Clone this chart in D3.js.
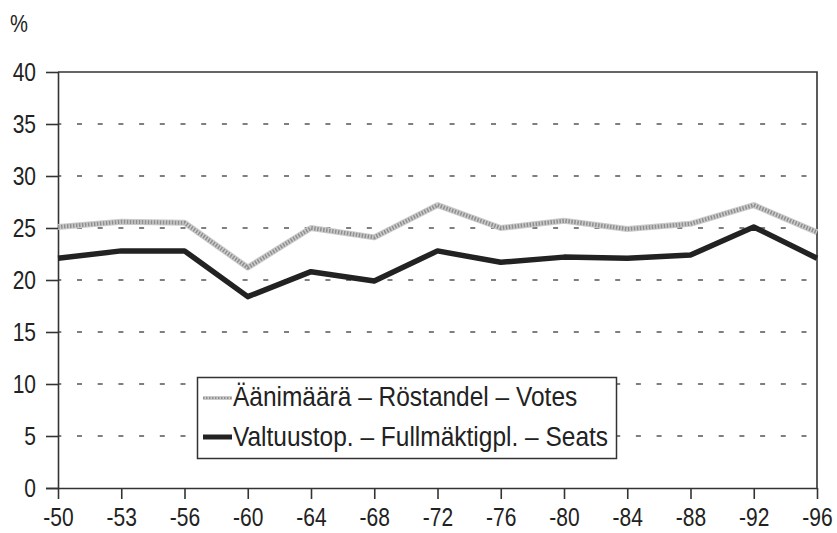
<!DOCTYPE html>
<html>
<head>
<meta charset="utf-8">
<script src="https://cdn.jsdelivr.net/npm/d3@7"></script>
<style>
  body { margin: 0; background: #fff; }
  svg { font-family: "Liberation Sans", Arial, sans-serif; }
</style>
</head>
<body>
<svg id="chart"></svg>
<script>
const years = ["-50", "-53", "-56", "-60", "-64", "-68", "-72", "-76", "-80", "-84", "-88", "-92", "-96"];
const votes = [25.1, 25.6, 25.5, 21.2, 25.0, 24.1, 27.2, 25.0, 25.7, 24.9, 25.4, 27.2, 24.6];
const seats = [22.1, 22.8, 22.8, 18.4, 20.8, 19.9, 22.8, 21.7, 22.2, 22.1, 22.4, 25.1, 22.1];
const yTicks = [0, 5, 10, 15, 20, 25, 30, 35, 40];
const legendLabels = ["Äänimäärä – Röstandel – Votes", "Valtuustop. – Fullmäktigpl. – Seats"];

const width = 837;
const height = 533;
const margin = ({ top: 72, right: 20, bottom: 45, left: 58 });

const svg = d3.select("#chart")
    .attr("width", width)
    .attr("height", height);

// scales
let xScale = d3.scalePoint()
    .domain(years)
    .range([margin.left, width - margin.right]);

let yScale = d3.scaleLinear()
    .domain([0, 40])
    .range([height - margin.bottom, margin.top]);

// dashed gridlines
svg.append("g")
    .selectAll("line")
    .data(yTicks.filter(d => d > 0 && d < 40))
    .join("line")
    .attr("x1", margin.left)
    .attr("x2", width - margin.right)
    .attr("y1", d => yScale(d))
    .attr("y2", d => yScale(d))
    .attr("stroke", "#555")
    .attr("stroke-width", 1.3)
    .attr("stroke-dasharray", "5,15.7")
    .attr("stroke-dashoffset", -19);

// frame top + right
svg.append("path")
    .attr("d", `M${margin.left},${yScale(40)}H${width - margin.right}V${yScale(0)}`)
    .attr("fill", "none")
    .attr("stroke", "#333")
    .attr("stroke-width", 1.6);

// axes
yAxis = g => g
    .attr("transform", `translate(${margin.left},0)`)
    .call(d3.axisLeft(yScale).tickValues(yTicks).tickSize(12).tickPadding(10))
    .call(g => g.selectAll("path, line").attr("stroke", "#333").attr("stroke-width", 1.6))
    .call(g => g.select(".domain").attr("d", `M0.5,${yScale(40)}V${yScale(0)}`))
    .call(g => g.selectAll("text").attr("font-size", 25).attr("fill", "#222").attr("font-family", null));

xAxis = g => g
    .attr("transform", `translate(0,${yScale(0)})`)
    .call(d3.axisBottom(xScale).tickSize(11).tickSizeOuter(0).tickPadding(9))
    .call(g => g.selectAll("path, line").attr("stroke", "#333").attr("stroke-width", 1.6))
    .call(g => g.select(".domain").attr("d", `M${margin.left - 12},0.5H${width - margin.right}`))
    .call(g => g.selectAll("text").attr("font-size", 25).attr("fill", "#222").attr("font-family", null));

svg.append("g").call(yAxis);
svg.append("g").call(xAxis);

svg.append("text")
    .attr("x", 10)
    .attr("y", 32)
    .attr("font-size", 24)
    .attr("fill", "#222")
    .text("%");

// condense axis text horizontally
svg.selectAll("text").each(function () {
    const w = this.getComputedTextLength();
    d3.select(this).attr("textLength", w * 0.84).attr("lengthAdjust", "spacingAndGlyphs");
});

// lines
const line = d3.line()
    .x((d, i) => xScale(years[i]))
    .y(d => yScale(d));

function grayLine(g, d, w) {
    g.append("path").attr("d", d).attr("fill", "none")
        .attr("stroke", "#cbcbcb").attr("stroke-width", w).attr("stroke-linejoin", "round");
    g.append("path").attr("d", d).attr("fill", "none")
        .attr("stroke", "#8f8f8f").attr("stroke-width", w - 2)
        .attr("stroke-dasharray", "1.5,1.5").attr("stroke-linejoin", "round");
}

grayLine(svg.append("g"), line(votes), 6);

svg.append("path")
    .attr("d", line(seats))
    .attr("fill", "none")
    .attr("stroke", "#222")
    .attr("stroke-width", 5.5)
    .attr("stroke-linejoin", "round");

// legend
const lg = svg.append("g");
lg.append("rect")
    .attr("x", 197.5).attr("y", 377.5)
    .attr("width", 419).attr("height", 81)
    .attr("fill", "#fff")
    .attr("stroke", "#333")
    .attr("stroke-width", 1.5);

grayLine(lg, "M203,398H232", 4);
lg.append("path").attr("d", "M203,437H232").attr("stroke", "#222").attr("stroke-width", 5);

lg.selectAll("text")
    .data(legendLabels)
    .join("text")
    .attr("x", 233)
    .attr("y", (d, i) => 406 + i * 40)
    .attr("font-size", 27.5)
    .attr("fill", "#222")
    .text(d => d)
    .each(function () {
        const w = this.getComputedTextLength();
        d3.select(this).attr("textLength", w * 0.89).attr("lengthAdjust", "spacingAndGlyphs");
    });
</script>
</body>
</html>
